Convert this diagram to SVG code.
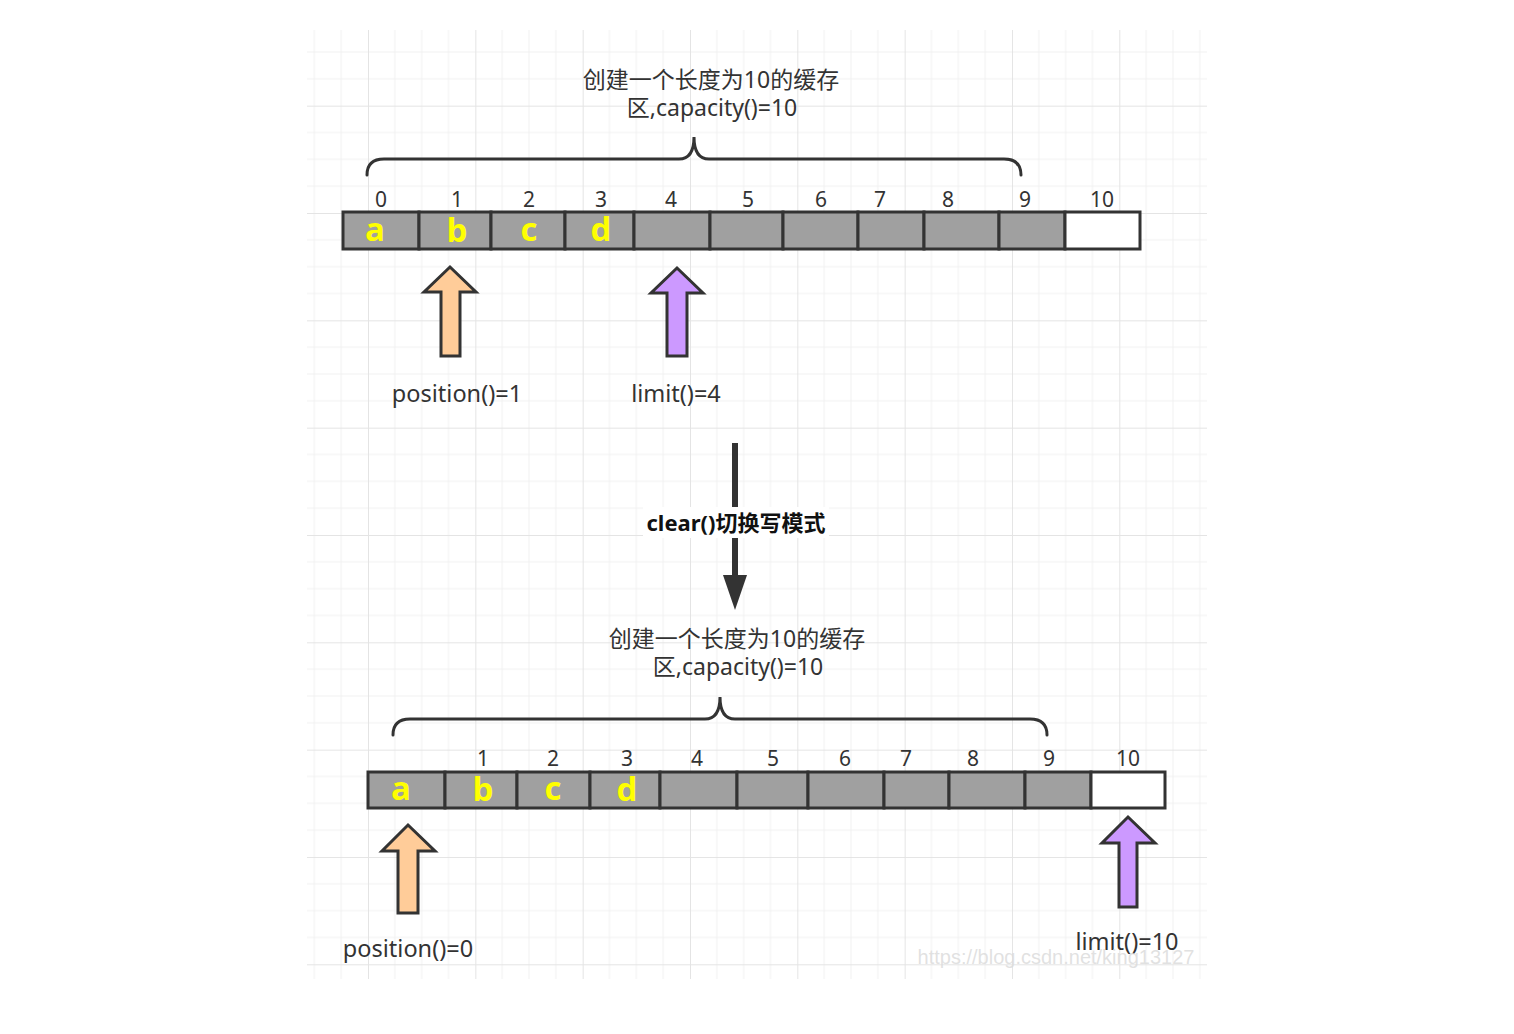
<svg xmlns="http://www.w3.org/2000/svg" width="1514" height="1034" viewBox="0 0 1514 1034">
<defs>
<pattern id="grid" patternUnits="userSpaceOnUse" x="368" y="213" width="107.33" height="107.33">
<path d="M26.83,0V107.33M53.67,0V107.33M80.5,0V107.33M0,26.83H107.33M0,53.67H107.33M0,80.5H107.33" stroke="#f1f1f1" stroke-width="1" fill="none"/>
<path d="M0.5,0V107.33M0,0.5H107.33" stroke="#e4e4e4" stroke-width="1" fill="none"/>
</pattern>
</defs>
<style>
.lbl{font-family:"Noto Sans","Open Sans","Noto Sans CJK SC",sans-serif;font-size:23px;fill:#333;text-anchor:middle}
.ptl{font-family:"Noto Sans","Open Sans",sans-serif;font-size:23.5px;fill:#333;text-anchor:middle}
.idx{font-family:"Noto Sans","Open Sans",sans-serif;font-size:21px;fill:#333;text-anchor:middle}
.let{font-family:"Open Sans","Noto Sans",sans-serif;font-size:33px;font-weight:bold;fill:#ffff00;text-anchor:middle}
.cell{fill:#a0a0a0;stroke:#333;stroke-width:3}
.empty{fill:#fff;stroke:#333;stroke-width:3}
.brace{fill:none;stroke:#333;stroke-width:3;stroke-linecap:round}
.ptr{stroke:#333;stroke-width:3;stroke-linejoin:miter}
.pos{fill:#ffcc99}
.lim{fill:#cc99ff}
</style>
<rect width="1514" height="1034" fill="#fff"/>
<rect x="307" y="30" width="900" height="949" fill="url(#grid)"/>

<g id="top-title">
<text class="lbl" x="711" y="88">创建一个长度为10的缓存</text>
<text class="lbl" x="712" y="116">区,capacity()=10</text>
</g>
<g id="top-brace">
<path class="brace" d="M367,175 Q367,159 384,159 L679,159 Q694,159 694,137 Q694,159 709,159 L1004,159 Q1021,159 1021,175"/>
</g>
<g id="top-indices">
<text class="idx" x="381" y="207">0</text>
<text class="idx" x="457" y="207">1</text>
<text class="idx" x="529" y="207">2</text>
<text class="idx" x="601" y="207">3</text>
<text class="idx" x="671" y="207">4</text>
<text class="idx" x="748" y="207">5</text>
<text class="idx" x="821" y="207">6</text>
<text class="idx" x="880" y="207">7</text>
<text class="idx" x="948" y="207">8</text>
<text class="idx" x="1025" y="207">9</text>
<text class="idx" x="1102" y="207">10</text>
</g>
<g id="top-array">
<rect class="cell" x="343" y="212" width="76" height="37"/>
<rect class="cell" x="419" y="212" width="72" height="37"/>
<rect class="cell" x="491" y="212" width="74" height="37"/>
<rect class="cell" x="565" y="212" width="69" height="37"/>
<rect class="cell" x="634" y="212" width="76" height="37"/>
<rect class="cell" x="710" y="212" width="73" height="37"/>
<rect class="cell" x="783" y="212" width="75" height="37"/>
<rect class="cell" x="858" y="212" width="66" height="37"/>
<rect class="cell" x="924" y="212" width="75" height="37"/>
<rect class="cell" x="999" y="212" width="66" height="37"/>
<rect class="empty" x="1065" y="212" width="75" height="37"/>
<text class="let" x="375" y="241">a</text>
<text class="let" x="457" y="242">b</text>
<text class="let" x="529" y="241">c</text>
<text class="let" x="601" y="241">d</text>
</g>
<g id="top-position">
<path class="ptr pos" d="M450,267 L476,292 L460,292 L460,356 L441,356 L441,292 L424,292 Z"/>
<text class="ptl" x="457" y="402">position()=1</text>
</g>
<g id="top-limit">
<path class="ptr lim" d="M677,268 L703,293 L687,293 L687,356 L667,356 L667,293 L651,293 Z"/>
<text class="ptl" x="676" y="402">limit()=4</text>
</g>

<g id="connectors">
<line x1="735" y1="443" x2="735" y2="578" stroke="#333" stroke-width="6"/>
<polygon points="723,575 747,575 735,610" fill="#333"/>
<rect x="643" y="507" width="186" height="31" fill="#fff"/>
<text x="736" y="531" font-family="'Noto Sans','Open Sans','Noto Sans CJK SC',sans-serif" font-size="22" font-weight="bold" fill="#111" text-anchor="middle">clear()切换写模式</text>
</g>

<g id="bottom-title">
<text class="lbl" x="737" y="647">创建一个长度为10的缓存</text>
<text class="lbl" x="738" y="675">区,capacity()=10</text>
</g>
<g id="bottom-brace">
<path class="brace" d="M393,735 Q393,719 410,719 L705,719 Q720,719 720,697 Q720,719 735,719 L1030,719 Q1047,719 1047,735"/>
</g>
<g id="bottom-indices">
<text class="idx" x="483" y="766">1</text>
<text class="idx" x="553" y="766">2</text>
<text class="idx" x="627" y="766">3</text>
<text class="idx" x="697" y="766">4</text>
<text class="idx" x="773" y="766">5</text>
<text class="idx" x="845" y="766">6</text>
<text class="idx" x="906" y="766">7</text>
<text class="idx" x="973" y="766">8</text>
<text class="idx" x="1049" y="766">9</text>
<text class="idx" x="1128" y="766">10</text>
</g>
<g id="bottom-array">
<rect class="cell" x="368" y="772" width="77" height="36"/>
<rect class="cell" x="445" y="772" width="72" height="36"/>
<rect class="cell" x="517" y="772" width="73" height="36"/>
<rect class="cell" x="590" y="772" width="70" height="36"/>
<rect class="cell" x="660" y="772" width="77" height="36"/>
<rect class="cell" x="737" y="772" width="71" height="36"/>
<rect class="cell" x="808" y="772" width="76" height="36"/>
<rect class="cell" x="884" y="772" width="65" height="36"/>
<rect class="cell" x="949" y="772" width="76" height="36"/>
<rect class="cell" x="1025" y="772" width="66" height="36"/>
<rect class="empty" x="1091" y="772" width="74" height="36"/>
<text class="let" x="401" y="800">a</text>
<text class="let" x="483" y="801">b</text>
<text class="let" x="553" y="800">c</text>
<text class="let" x="627" y="801">d</text>
</g>
<g id="bottom-position">
<path class="ptr pos" d="M408,825 L435,851 L418,851 L418,913 L398,913 L398,851 L382,851 Z"/>
<text class="ptl" x="408" y="957">position()=0</text>
</g>
<g id="bottom-limit">
<path class="ptr lim" d="M1128,817 L1155,843 L1137,843 L1137,907 L1119,907 L1119,843 L1102,843 Z"/>
<text class="ptl" x="1127" y="950">limit()=10</text>
</g>
<text x="1056" y="964" font-family="'Liberation Sans',Arial,sans-serif" font-size="20" fill="#dcdcdc" fill-opacity="0.85" text-anchor="middle">https://blog.csdn.net/king13127</text>
</svg>
